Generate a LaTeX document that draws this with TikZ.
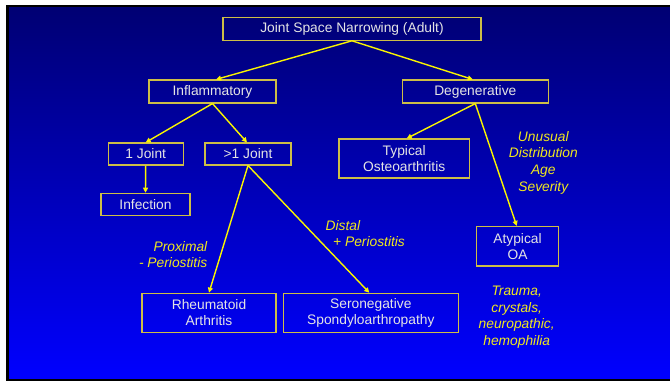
\documentclass[tikz,border=0pt]{standalone}
\usepackage{fontspec}
\setmainfont{Liberation Sans}
\usetikzlibrary{arrows.meta}
\definecolor{boxc}{RGB}{205,190,70}
\definecolor{txtc}{RGB}{228,228,228}
\definecolor{labc}{RGB}{240,232,30}
\definecolor{arrc}{RGB}{250,245,0}
\definecolor{bgtop}{RGB}{0,0,115}
\definecolor{bgbot}{RGB}{0,0,255}
\tikzset{
  box/.style={draw=boxc, line width=1.1pt, text=txtc, inner sep=0pt, align=center,
    font=\fontsize{13.8}{16}\selectfont},
  lab/.style={text=labc, inner sep=0pt, font=\fontsize{13.8}{16.7}\selectfont\itshape},
  arr/.style={draw=arrc, line width=1.4pt, -{Triangle[length=5pt,width=5pt]}},
}
\begin{document}
\begin{tikzpicture}[x=1pt,y=-1pt]
\useasboundingbox (0,0) rectangle (670,381);
\fill[white] (0,0) rectangle (670,381);
\fill[black] (6,5) rectangle (670,381);
\shade[top color=bgtop, bottom color=bgbot] (9,7.5) rectangle (670,378);

\node[box, minimum width=258pt, minimum height=22.5pt] (title) at (352,29) {Joint Space Narrowing (Adult)};
\node[box, minimum width=127pt, minimum height=23pt] (infl) at (212.5,91.5) {Inflammatory};
\node[box, minimum width=146.5pt, minimum height=23pt] (degen) at (475.3,91.5) {Degenerative};
\node[box, minimum width=75pt, minimum height=22pt] (one) at (145.7,154) {1 Joint};
\node[box, minimum width=86pt, minimum height=22pt] (more) at (248,154) {>1 Joint};
\node[box, minimum width=130.5pt, minimum height=39pt] (typ) at (404.2,158.5) {Typical\\Osteoarthritis};
\node[box, minimum width=89pt, minimum height=22.5pt] (inf) at (145.5,204.5) {Infection};
\node[box, minimum width=134pt, minimum height=39.5pt] (ra) at (209,313) {Rheumatoid\\Arthritis};
\node[box, minimum width=175pt, minimum height=39.5pt] (sero) at (370.8,313) {Seronegative\\Spondyloarthropathy};
\node[box, minimum width=82.5pt, minimum height=39.5pt] (aty) at (517.5,246.2) {Atypical\\OA};

\node[lab, align=center] (unusual) at (543.3,162.6) {Unusual\\Distribution\\Age\\Severity};
\node[lab, align=right, anchor=east] (prox) at (207.5,254.5) {Proximal\\- Periostitis};
\node[lab, align=left, anchor=west] (distal) at (325.5,233.5) {Distal\\\hspace*{7.5pt}+ Periostitis};
\node[lab, align=center] (trauma) at (516.7,317.3) {Trauma,\\crystals,\\neuropathic,\\hemophilia};

\draw[arr] (title.south) -- ([xshift=3.5pt]infl.north);
\draw[arr] (title.south) -- ([xshift=-2.5pt]degen.north);
\draw[arr] (infl.south) -- (one.north);
\draw[arr] (infl.south) -- ([xshift=-1pt]more.north);
\draw[arr] (one.south) -- (inf.north);
\draw[arr] (more.south) -- (ra.north);
\draw[arr] (more.south) -- ([xshift=-1.5pt]sero.north);
\draw[arr] (degen.south) -- ([xshift=2.5pt]typ.north);
\draw[arr] (degen.south) -- ([xshift=-0.8pt]aty.north);
\end{tikzpicture}
\end{document}
